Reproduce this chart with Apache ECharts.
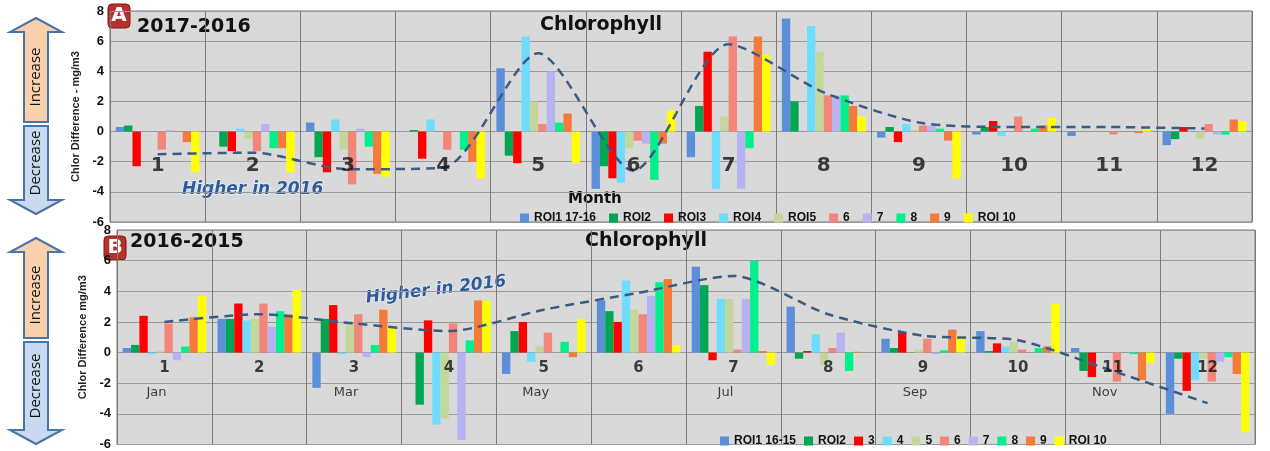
<!DOCTYPE html>
<html><head><meta charset="utf-8">
<script src="https://cdn.jsdelivr.net/npm/echarts@6/dist/echarts.min.js"></script>
<style>html,body{margin:0;background:#fff}#c{width:1270px;height:451px}</style>
</head><body><div id="c"></div>
<script>
// months
const months = ['1','2','3','4','5','6','7','8','9','10','11','12'];
const monthNamesB = ['Jan','','Mar','','May','','Jul','','Sep','','Nov',''];
const colors = ['#5b8fd9','#00a650','#ff0000','#6fdcff','#c4d79b','#f4857a','#b7b3f2','#00f08c','#f47b3b','#ffff00'];

// panel A : 2017-2016
const namesA = ['ROI1 17-16','ROI2','ROI3','ROI4','ROI5','6','7','8','9','ROI 10'];
const roiA1 = [0.3,0,0.6,0,4.2,-3.8,-1.7,7.5,-0.4,-0.2,-0.3,-0.9];
const roiA2 = [0.4,-1.0,-1.7,0.1,-1.6,-2.3,1.7,2.0,0.3,0.3,0,-0.5];
const roiA3 = [-2.3,-1.3,-2.7,-1.8,-2.1,-3.1,5.3,0,-0.7,0.7,0,0.3];
const roiA4 = [0,0.2,0.8,0.8,6.3,-3.4,-3.8,7.0,0.5,-0.3,0,0];
const roiA5 = [0,-0.5,-1.2,0,2.0,-1.1,1.0,5.3,0.1,0,0,-0.5];
const roiA6 = [-1.2,-1.3,-3.5,-1.2,0.5,-0.6,6.3,2.4,0.4,1.0,-0.2,0.5];
const roiA7 = [0.1,0.5,0.2,0,4.0,-0.8,-3.8,2.4,0.4,0,0,-0.2];
const roiA8 = [0,-1.1,-1.0,-1.2,0.6,-3.2,-1.1,2.4,0.2,0.2,0,-0.2];
const roiA9 = [-0.7,-1.1,-2.8,-2.0,1.2,-0.8,6.3,1.7,-0.6,0.4,-0.1,0.8];
const roiA10 = [-2.7,-2.7,-3.0,-3.1,-2.1,1.4,5.1,1.0,-3.1,0.9,0.2,0.7];
const trendA = [-1.5,-1.4,-2.5,-2.4,5.2,-2.6,5.8,2.6,0.6,0.3,0.3,0.2];

// panel B : 2016-2015
const namesB = ['ROI1 16-15','ROI2','3','4','5','6','7','8','9','ROI 10'];
const roiB1 = [0.3,2.2,-2.3,0,-1.4,3.4,5.6,3.0,0.9,1.4,0.3,-4.0];
const roiB2 = [0.5,2.2,2.2,-3.4,1.4,2.7,4.4,-0.4,0.3,0.1,-1.2,-0.4];
const roiB3 = [2.4,3.2,3.1,2.1,2.0,2.0,-0.5,0.1,1.3,0.6,-1.6,-2.5];
const roiB4 = [-0.1,2.1,-0.1,-4.7,-0.6,4.7,3.5,1.2,0,0.4,0,-1.8];
const roiB5 = [0.1,2.2,1.9,-4.3,0.4,2.8,3.5,-0.8,0.2,0.7,0,-0.4];
const roiB6 = [1.9,3.2,2.5,1.9,1.3,2.5,0.2,0.3,0.9,0.2,-1.9,-1.9];
const roiB7 = [-0.5,1.7,-0.3,-5.7,0,3.7,3.5,1.3,-0.1,0,0,-0.6];
const roiB8 = [0.4,2.7,0.5,0.8,0.7,4.6,6.0,-1.2,0.15,0.3,-0.1,-0.3];
const roiB9 = [2.3,2.5,2.8,3.4,-0.3,4.8,0.1,0.05,1.5,0.4,-1.8,-1.4];
const roiB10 = [3.7,4.1,1.7,3.4,2.2,0.5,-0.8,0,1.1,3.2,-0.7,-5.2];
const trendB = [2.0,2.5,1.9,1.4,2.8,3.9,5.0,2.5,1.1,0.8,-1.2,-3.3];

const dataA = [roiA1,roiA2,roiA3,roiA4,roiA5,roiA6,roiA7,roiA8,roiA9,roiA10];
const dataB = [roiB1,roiB2,roiB3,roiB4,roiB5,roiB6,roiB7,roiB8,roiB9,roiB10];

const chart = echarts.init(document.getElementById('c'));

function barSeries(names, data, idx) {
  return names.map((n, i) => ({
    name: n, type: 'bar', xAxisIndex: idx, yAxisIndex: idx,
    data: data[i], barGap: '0%', barCategoryGap: '12%',
    itemStyle: {color: colors[i]}
  }));
}
function trend(d, idx) {
  return {type: 'line', xAxisIndex: idx, yAxisIndex: idx, data: d, smooth: 0.25,
    symbol: 'none', z: 5, lineStyle: {color: '#3b5a84', width: 2.5, type: [9, 6]}};
}
// month labels drawn inside the plot at a fixed value level
function monthLabels(labels, idx, level, font) {
  return {type: 'scatter', xAxisIndex: idx, yAxisIndex: idx, symbolSize: 0, z: 6,
    silent: true, data: labels.map(() => level),
    label: {show: true, position: 'inside', formatter: p => labels[p.dataIndex],
      color: '#111', ...font}};
}
function xAx(idx) {
  return {type: 'category', gridIndex: idx, data: months, axisTick: {show: false},
    axisLine: {show: false}, axisLabel: {show: false},
    splitLine: {show: true, lineStyle: {color: '#7a7a7a'}}};
}
function yAx(idx) {
  return {type: 'value', gridIndex: idx, min: -6, max: 8, interval: 2,
    name: idx === 0 ? 'Chlor Difference - mg/m3' : 'Chlor Difference mg/m3',
    nameLocation: 'middle', nameGap: 22,
    nameTextStyle: {fontSize: 11, fontWeight: 'bold', color: '#222'},
    axisLabel: {fontWeight: 'bold', fontSize: 13, color: '#111', margin: 6},
    splitLine: {lineStyle: {color: '#9a9a9a'}}, axisLine: {show: false}};
}
// arrow pair graphics
function arrows(top, mid, bot) {
  const x0 = 14, x1 = 58, s0 = 24, s1 = 48, h = 14;
  return [
    {type: 'polygon', shape: {points: [[36, top], [x1 + 4, top + h], [s1, top + h], [s1, mid - 2], [s0, mid - 2], [s0, top + h], [x0 - 4, top + h]]},
      style: {fill: '#f9d2ad', stroke: '#4a74a8', lineWidth: 2}},
    {type: 'polygon', shape: {points: [[36, bot], [x1 + 4, bot - h], [s1, bot - h], [s1, mid + 2], [s0, mid + 2], [s0, bot - h], [x0 - 4, bot - h]]},
      style: {fill: '#c9daf0', stroke: '#4a74a8', lineWidth: 2}},
    {type: 'text', x: 36, y: (top + mid) / 2 + 6, rotation: Math.PI / 2,
      style: {text: 'Increase', fill: '#111', font: '15px "Open Sans"', align: 'center', verticalAlign: 'middle'}},
    {type: 'text', x: 36, y: (mid + bot) / 2 - 6, rotation: Math.PI / 2,
      style: {text: 'Decrease', fill: '#111', font: '15px "Open Sans"', align: 'center', verticalAlign: 'middle'}}
  ];
}
function badge(x, y, t) {
  return [
    {type: 'rect', shape: {x: x, y: y, width: 22, height: 24, r: 4}, style: {fill: '#b7312c', stroke: '#7a1b18', lineWidth: 1}},
    {type: 'text', x: x + 11, y: y + 12, style: {text: t, fill: '#fff', font: 'bold 20px "DejaVu Sans"', align: 'center', verticalAlign: 'middle'}}
  ];
}
const higher = {text: 'Higher in 2016', fill: '#2f5c99', stroke: '#e8eef8', lineWidth: 1.5,
  font: 'italic bold 17px "DejaVu Sans"'};

chart.setOption({
  animation: false,
  grid: [
    {left: 110, top: 11, right: 18, height: 211, show: true, backgroundColor: '#d9d9d9', borderColor: '#777'},
    {left: 117, top: 230, right: 15, height: 216, show: true, backgroundColor: '#d9d9d9', borderColor: '#777'}
  ],
  xAxis: [xAx(0), xAx(1)],
  yAxis: [yAx(0), yAx(1)],
  legend: [
    {data: namesA, left: 515, top: 207, itemWidth: 9, itemHeight: 9, itemGap: 13,
      textStyle: {fontSize: 12, fontWeight: 'bold', color: '#111'}, icon: 'rect'},
    {data: namesB, left: 715, top: 430, itemWidth: 9, itemHeight: 9, itemGap: 8,
      textStyle: {fontSize: 12, fontWeight: 'bold', color: '#111'}, icon: 'rect'}
  ],
  series: [...barSeries(namesA, dataA, 0), trend(trendA, 0),
    monthLabels(months, 0, -2.3, {fontSize: 20, fontWeight: 'bold', fontFamily: 'DejaVu Sans'}),
    ...barSeries(namesB, dataB, 1), trend(trendB, 1),
    monthLabels(months, 1, -1.0, {fontSize: 15, fontWeight: 'bold', fontFamily: 'DejaVu Sans'}),
    monthLabels(monthNamesB, 1, -2.6, {fontSize: 13, fontFamily: 'DejaVu Sans', offset: [-8, 0]})],
  graphic: [
    ...arrows(18, 124, 214), ...arrows(238, 340, 444),
    ...badge(108, 4, 'A'), ...badge(104, 236, 'B'),
    {type: 'text', x: 137, y: 18, style: {text: '2017-2016', font: 'bold 19px "DejaVu Sans"', fill: '#111'}},
    {type: 'text', x: 130, y: 233, style: {text: '2016-2015', font: 'bold 19px "DejaVu Sans"', fill: '#111'}},
    {type: 'text', x: 540, y: 16, style: {text: 'Chlorophyll', font: 'bold 19px "DejaVu Sans"', fill: '#111'}},
    {type: 'text', x: 585, y: 232, style: {text: 'Chlorophyll', font: 'bold 19px "DejaVu Sans"', fill: '#111'}},
    {type: 'text', x: 568, y: 192, style: {text: 'Month', font: 'bold 15px "DejaVu Sans"', fill: '#111'}},
    {type: 'text', x: 182, y: 181, style: higher},
    {type: 'text', x: 365, y: 290, rotation: 0.12, style: higher}
  ]
});
</script></body></html>
